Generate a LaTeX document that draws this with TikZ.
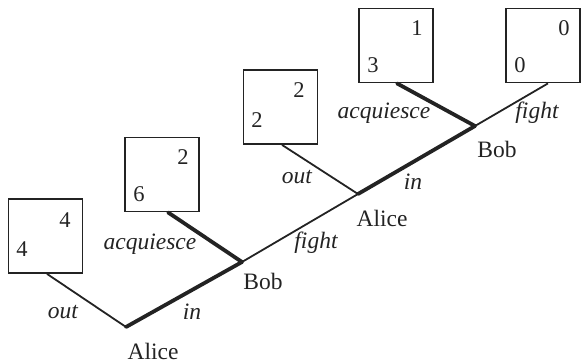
\documentclass[tikz,border=0pt]{standalone}
\usepackage{fontspec}
\setmainfont{Liberation Serif}
\definecolor{ink}{RGB}{35,35,35}
\begin{document}
\begin{tikzpicture}[x=1pt,y=-1pt,
  payoff/.style={draw=ink,line width=1.8pt,minimum width=74pt,minimum height=74pt,inner sep=0pt},
  num/.style={text=ink,font=\fontsize{22.5}{26}\selectfont,inner sep=0pt},
  lab/.style={text=ink,font=\fontsize{23.5}{27}\selectfont,inner sep=0pt},
  act/.style={text=ink,font=\fontsize{23.5}{27}\selectfont\itshape,inner sep=0pt},
  thin/.style={draw=ink,line width=1.8pt},
  thick/.style={draw=ink,line width=3.8pt,line cap=round}]
\useasboundingbox (0,0) rectangle (581,363);
% decision vertices
\coordinate (alice1) at (126,327);
\coordinate (bob1) at (242,262);
\coordinate (alice2) at (358,194);
\coordinate (bob2) at (475,126);
% payoff boxes
\node[payoff] (boxA) at (45.5,236) {};
\node[payoff] (boxB) at (162,174.5) {};
\node[payoff] (boxC) at (280.5,107) {};
\node[payoff] (boxD) at (396,45.5) {};
\node[payoff] (boxE) at (543,45.5) {};
% payoffs
\node[num] (a1) at (65,220) {4};
\node[num] (a2) at (22,249) {4};
\node[num] (b1) at (183,157) {2};
\node[num] (b2) at (139,194) {6};
\node[num] (c1) at (299,90) {2};
\node[num] (c2) at (257,120) {2};
\node[num] (d1) at (417,28) {1};
\node[num] (d2) at (373,65) {3};
\node[num] (e1) at (564,28) {0};
\node[num] (e2) at (520,65) {0};
% edges
\draw[thin] (alice1) -- ([xshift=1.5pt]boxA.south);
\draw[thin] (bob1) -- (alice2);
\draw[thin] (alice2) -- ([xshift=1.5pt]boxC.south);
\draw[thin] (bob2) -- ([xshift=5pt]boxE.south);
\draw[thick] (alice1) -- (bob1);
\draw[thick] (bob1) -- ([xshift=6pt]boxB.south);
\draw[thick] (alice2) -- (bob2);
\draw[thick] (bob2) -- ([xshift=1pt]boxD.south);
% player labels
\node[lab] (la1) at (153,351) {Alice};
\node[lab] (lb1) at (263,281) {Bob};
\node[lab] (la2) at (382,218) {Alice};
\node[lab] (lb2) at (497,149) {Bob};
% action labels
\node[act] (o1) at (63,312) {out};
\node[act] (i1) at (192,312) {in};
\node[act] (q1) at (150,244) {acquiesce};
\node[act] (f1) at (316,243) {fight};
\node[act] (o2) at (297,177) {out};
\node[act] (i2) at (413,182) {in};
\node[act] (q2) at (384,113) {acquiesce};
\node[act] (f2) at (537,113) {fight};
\end{tikzpicture}
\end{document}
